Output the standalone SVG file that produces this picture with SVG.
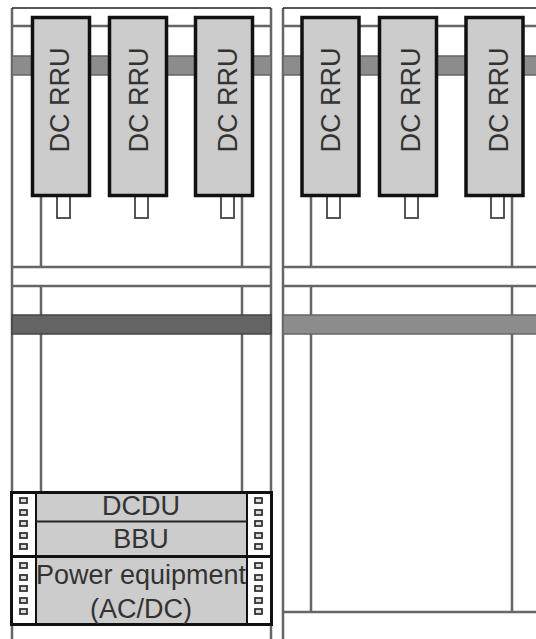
<svg xmlns="http://www.w3.org/2000/svg" width="536" height="639" viewBox="0 0 536 639">
<style>
.l{stroke:#666;stroke-width:2.5;fill:none}
.bar{fill:#8c8c8c;stroke:#666;stroke-width:1.5}
.dark{fill:#646464;stroke:#444;stroke-width:1.5}
.box{fill:#cbcccb;stroke:#111;stroke-width:3.5}
.stub{fill:#fff;stroke:#444;stroke-width:1.8}
.hole{fill:#ddd;stroke:#333;stroke-width:1.8}
.t{font-family:"Liberation Sans",Arial,sans-serif;font-size:27px;fill:#333;text-anchor:middle}
</style>
<defs>
<rect id="rru" class="box" x="0" y="0" width="57" height="178"/>
<g id="holes">
<rect class="hole" x="-3" y="0" width="7" height="5"/><rect class="hole" x="-3" y="12" width="7" height="5"/><rect class="hole" x="-3" y="23" width="7" height="5"/><rect class="hole" x="-3" y="35" width="7" height="5"/><rect class="hole" x="-3" y="46" width="7" height="5"/>
</g>
</defs>
<g id="connectors">
<path class="l" d="M12 8V639M271 8V639M283 8V639"/>
<path d="M12 8H271M283 8H536" stroke="#222" stroke-width="1.5" fill="none"/>
<path class="l" d="M12 26H271M283 26H536M12 267H271M283 267H536M12 286H271M283 286H536M283 612H536"/>
<path class="l" d="M41 196V267M242 196V267M311 196V267M512 196V267M41 286V492M242 286V492M311 286V612M512 286V612"/>
</g>
<g id="rails">
<rect class="bar" x="12" y="56" width="259" height="19"/>
<rect class="bar" x="283" y="56" width="254" height="19"/>
<rect class="dark" x="12" y="315" width="259" height="19"/>
<rect class="bar" x="283" y="315" width="254" height="19"/>
</g>
<g id="rru1"><rect class="stub" x="57" y="196" width="13" height="22"/><use href="#rru" x="32.5" y="17.5"/><text class="t" transform="translate(69 100) rotate(-90)">DC RRU</text></g>
<g id="rru2"><rect class="stub" x="135" y="196" width="13" height="22"/><use href="#rru" x="109.5" y="17.5"/><text class="t" transform="translate(148 100) rotate(-90)">DC RRU</text></g>
<g id="rru3"><rect class="stub" x="221" y="196" width="13" height="22"/><use href="#rru" x="195.5" y="17.5"/><text class="t" transform="translate(237 100) rotate(-90)">DC RRU</text></g>
<g id="rru4"><rect class="stub" x="327" y="196" width="13" height="22"/><use href="#rru" x="302" y="17.5"/><text class="t" transform="translate(340 100) rotate(-90)">DC RRU</text></g>
<g id="rru5"><rect class="stub" x="405" y="196" width="13" height="22"/><use href="#rru" x="379.5" y="17.5"/><text class="t" transform="translate(420 100) rotate(-90)">DC RRU</text></g>
<g id="rru6"><rect class="stub" x="491" y="196" width="13" height="22"/><use href="#rru" x="466" y="17.5"/><text class="t" transform="translate(508 100) rotate(-90)">DC RRU</text></g>
<g id="dcdu-bbu">
<rect x="11.5" y="492.5" width="260" height="64" fill="#fff" stroke="#111" stroke-width="3"/>
<rect x="36" y="494" width="211" height="61" fill="#cbcccb"/>
<path d="M36 494V555M247 494V555" stroke="#111" stroke-width="2"/>
<path d="M36 521.5H247" stroke="#222" stroke-width="2"/>
<use href="#holes" x="23" y="498"/><use href="#holes" x="258" y="498"/>
<text class="t" x="141" y="515">DCDU</text>
<text class="t" x="141" y="548">BBU</text>
</g>
<g id="power">
<rect x="11.5" y="556.5" width="260" height="68" fill="#fff" stroke="#111" stroke-width="3"/>
<rect x="36" y="558" width="211" height="65" fill="#cbcccb"/>
<path d="M36 558V623M247 558V623" stroke="#111" stroke-width="2"/>
<use href="#holes" x="23" y="563"/><use href="#holes" x="258" y="563"/>
<text class="t" x="141" y="584">Power equipment</text>
<text class="t" x="141" y="618">(AC/DC)</text>
</g>
</svg>
